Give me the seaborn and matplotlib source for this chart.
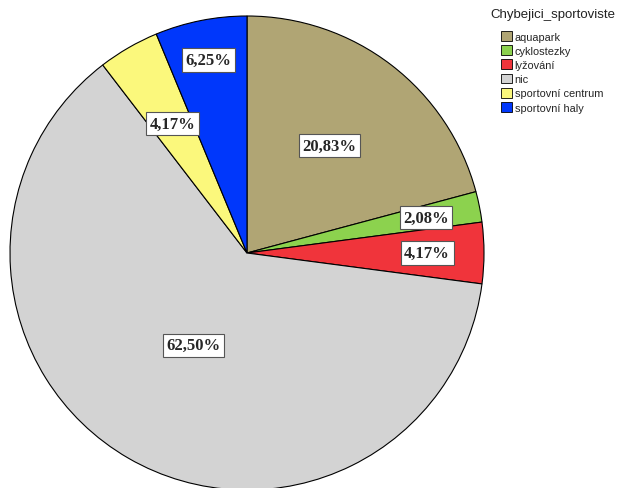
import numpy as np
import matplotlib
matplotlib.use("Agg")
import matplotlib.pyplot as plt
import seaborn as sns
from matplotlib.patches import Patch

sns.set_style("white")
plt.rcParams['font.family'] = ['Liberation Sans', 'DejaVu Sans']

categories = ["aquapark", "cyklostezky", "lyžování", "nic", "sportovní centrum", "sportovní haly"]
counts = [10, 1, 2, 30, 2, 3]
pct_labels = ["20,83%", "2,08%", "4,17%", "62,50%", "4,17%", "6,25%"]
colors = ["#B0A574", "#8CD24E", "#F0343B", "#D3D3D3", "#FBF87C", "#0037FB"]
# radial position of each percentage label (fraction of radius)
label_r = [0.57, 0.77, 0.76, 0.45, 0.63, 0.83]

fig = plt.figure(figsize=(6.18, 4.89), dpi=100)
ax = fig.add_axes([10 / 618, -2 / 489, 474 / 618, 474 / 489])

wedges, _ = ax.pie(counts, colors=colors, startangle=90, counterclock=False,
                   wedgeprops=dict(edgecolor="black", linewidth=0.8))
ax.set_xlim(-1, 1)
ax.set_ylim(-1, 1)
ax.set_aspect("equal")

for w, lab, r in zip(wedges, pct_labels, label_r):
    ang = np.deg2rad((w.theta1 + w.theta2) / 2)
    ax.text(r * np.cos(ang), r * np.sin(ang), lab, ha="center", va="center",
            fontsize=12, fontweight="bold", family=["Liberation Serif", "DejaVu Serif"],
            bbox=dict(boxstyle="square,pad=0.22", facecolor="white", edgecolor="#555555", linewidth=0.8))

fig.text(490 / 618, 1 - 15 / 489, "Chybejici_sportoviste", ha="left", va="center",
         fontsize=9.5, color="#222222")
handles = [Patch(facecolor=c, edgecolor="black", linewidth=0.6) for c in colors]
leg = fig.legend(handles, categories, loc="upper left",
                 bbox_to_anchor=(501 / 618, 1 - 32 / 489), frameon=False, fontsize=7.9,
                 handlelength=1.0, handleheight=1.0, handletextpad=0.25,
                 labelspacing=0.32, borderaxespad=0, borderpad=0)

fig.savefig("out.png", dpi=100)
